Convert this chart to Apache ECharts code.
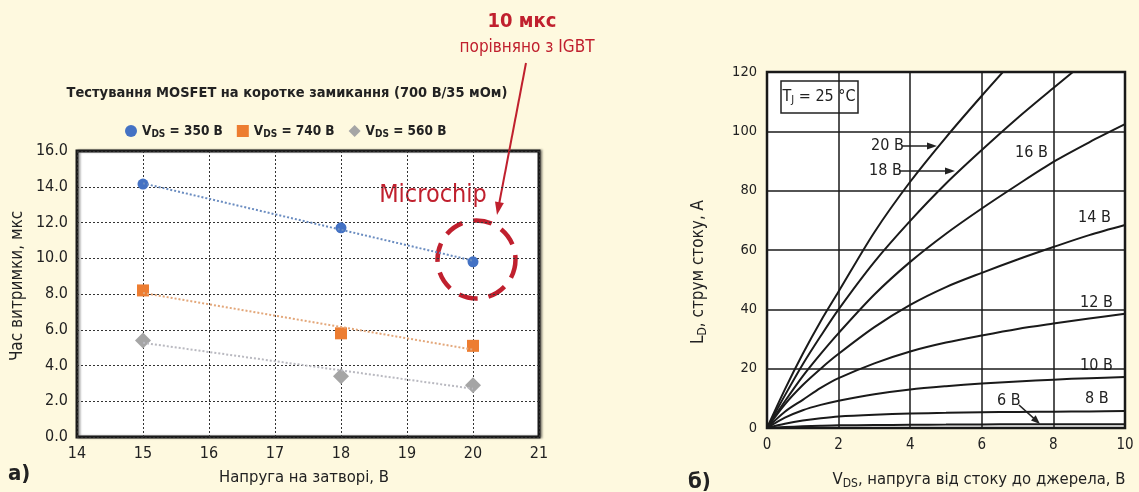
<!DOCTYPE html>
<html><head><meta charset="utf-8">
<script src="https://cdn.jsdelivr.net/npm/echarts@6/dist/echarts.min.js"></script>
<style>html,body{margin:0;padding:0;background:#FEF9DF;}#c{width:1139px;height:492px;}</style>
</head><body><div id="c"></div>
<script>
// ---------- panel a) data ----------
const gateVoltage = [15, 18, 20];
const vds350 = [14.15, 11.7, 9.8];
const vds740 = [8.2, 5.8, 5.1];
const vds560 = [5.4, 3.4, 2.9];
const seriesNames = ['350', '740', '560'];
// ---------- panel b) data ----------
const vdsX = [0, 0.5, 1, 1.5, 2, 3, 4, 5, 6, 7, 8, 9, 10];
const id20 = [0, 13, 25, 36, 46, 66, 83, 98, 112, 125.5, null, null, null];
const id18 = [0, 11, 21.5, 31, 40, 56, 69.8, 82.4, 93.7, 104.5, 114.6, 124.5, null];
const id16 = [0, 9, 17.5, 25, 32, 45, 56, 65.5, 74, 82, 89.7, 96.3, 102.4];
const id14 = [0, 8, 14.5, 20, 25, 34, 41.5, 47.5, 52.3, 56.8, 61, 65, 68.4];
const id12 = [0, 5.5, 9.5, 13.5, 16.8, 21.8, 25.8, 28.8, 31.2, 33.4, 35.2, 36.9, 38.5];
const id10 = [0, 3.5, 6, 7.8, 9.2, 11.4, 13, 14.1, 15, 15.7, 16.3, 16.8, 17.2];
const id8  = [0, 1.4, 2.5, 3.3, 3.9, 4.5, 4.9, 5.1, 5.3, 5.4, 5.5, 5.6, 5.7];
const id6  = [0, 0.3, 0.55, 0.75, 0.9, 1.0, 1.1, 1.15, 1.2, 1.25, 1.3, 1.3, 1.3];

const FONT = "'Liberation Sans Narrow','DejaVu Sans Condensed','Roboto Condensed',sans-serif";
const RED = '#c0202e';
const BLUE = '#4472c4', ORANGE = '#ed7d31', GRAY = '#a5a5a5';

function zip(xs, ys) { const r = []; xs.forEach((x, i) => { if (ys[i] !== null) r.push([x, ys[i]]); }); return r; }
function trend(xs, ys) {
  const n = xs.length, mx = xs.reduce((a, b) => a + b) / n, my = ys.reduce((a, b) => a + b) / n;
  let sxy = 0, sxx = 0;
  xs.forEach((x, i) => { sxy += (x - mx) * (ys[i] - my); sxx += (x - mx) * (x - mx); });
  const k = sxy / sxx, b = my - k * mx;
  const x0 = Math.min(...xs), x1 = Math.max(...xs);
  return [[x0, k * x0 + b], [x1, k * x1 + b]];
}

const chart = echarts.init(document.getElementById('c'));
const txt = (x, y, text, extra, rot) => {
  const o = { type: 'text', x, y, style: Object.assign({ text, font: '16px ' + FONT, fill: '#222', align: 'left', verticalAlign: 'middle' }, extra || {}) };
  if (rot) o.rotation = rot;
  return o;
};
const arrowHead = (tx, ty, fx, fy, len, w, color) => {
  const a = Math.atan2(ty - fy, tx - fx);
  const bx = tx - len * Math.cos(a), by = ty - len * Math.sin(a);
  const px = -Math.sin(a) * w, py = Math.cos(a) * w;
  return { type: 'polygon', shape: { points: [[tx, ty], [bx + px, by + py], [bx - px, by - py]] }, style: { fill: color } };
};
const arrow = (fx, fy, tx, ty, color, lw, len, w) => {
  const a = Math.atan2(ty - fy, tx - fx);
  return [
    { type: 'line', shape: { x1: fx, y1: fy, x2: tx - len * 0.8 * Math.cos(a), y2: ty - len * 0.8 * Math.sin(a) }, style: { stroke: color, lineWidth: lw } },
    arrowHead(tx, ty, fx, fy, len, w, color)
  ];
};

const curveStyle = { type: 'line', xAxisIndex: 1, yAxisIndex: 1, smooth: 0.3, symbol: 'none', lineStyle: { color: '#1a1a1a', width: 2 }, clip: true, silent: true };
const subRich = (big, small) => ({ a: { font: big + 'px ' + FONT, fill: '#222' }, s: { font: small + 'px ' + FONT, fill: '#222', padding: [7, 0, 0, 0] } });

const option = {
  backgroundColor: '#FEF9DF',
  animation: false,
  textStyle: { fontFamily: FONT },
  grid: [
    { left: 77, right: 600, top: 151, bottom: 55, show: true, backgroundColor: '#fff', borderColor: '#1a1a1a', borderWidth: 3, shadowColor: 'rgba(0,0,0,0.35)', shadowOffsetX: 2, shadowBlur: 2 },
    { left: 767, right: 14, top: 72, bottom: 64, show: true, backgroundColor: '#fff', borderColor: '#1a1a1a', borderWidth: 2.5 }
  ],
  xAxis: [
    { gridIndex: 0, type: 'value', min: 14, max: 21, interval: 1, axisLine: { show: false }, axisTick: { show: false },
      axisLabel: { color: '#222', fontSize: 16, fontFamily: FONT, margin: 9 },
      splitLine: { show: true, lineStyle: { color: '#333', width: 1, type: [2, 2] } } },
    { gridIndex: 1, type: 'value', min: 0, max: 10, interval: 2, axisLine: { show: false }, axisTick: { show: false },
      axisLabel: { color: '#222', fontSize: 15, fontFamily: FONT, margin: 10 },
      splitLine: { show: true, lineStyle: { color: '#1a1a1a', width: 1.5 } } }
  ],
  yAxis: [
    { gridIndex: 0, type: 'value', min: 0, max: 16, interval: 2, axisLine: { show: false }, axisTick: { show: false },
      axisLabel: { color: '#222', fontSize: 16, fontFamily: FONT, margin: 9, formatter: v => v.toFixed(1) },
      splitLine: { show: true, lineStyle: { color: '#333', width: 1, type: [2, 2] } } },
    { gridIndex: 1, type: 'value', min: 0, max: 120, interval: 20, axisLine: { show: false }, axisTick: { show: false },
      axisLabel: { color: '#222', fontSize: 14.5, fontFamily: FONT, margin: 10 },
      splitLine: { show: true, lineStyle: { color: '#1a1a1a', width: 1.5 } } }
  ],
  legend: {
    left: 120, top: 119, itemWidth: 12, itemHeight: 12, itemGap: 14,
    data: [{ name: seriesNames[0], icon: 'circle' }, { name: seriesNames[1], icon: 'rect' }, { name: seriesNames[2], icon: 'diamond' }],
    formatter: n => '{v|V}{s|DS}{v| = ' + n + ' В}',
    textStyle: { fontFamily: FONT, rich: {
      v: { fontSize: 13.5, fontWeight: 'bold', color: '#222', fontFamily: FONT },
      s: { fontSize: 10, fontWeight: 'bold', color: '#222', fontFamily: FONT, padding: [6, 0, 0, 0] } } }
  },
  series: [
    { name: 't350', type: 'line', data: trend(gateVoltage, vds350), symbol: 'none', lineStyle: { color: '#6a8cc0', width: 2, type: [2, 2] }, silent: true },
    { name: 't740', type: 'line', data: trend(gateVoltage, vds740), symbol: 'none', lineStyle: { color: '#e3a77a', width: 2, type: [2, 2] }, silent: true },
    { name: 't560', type: 'line', data: trend(gateVoltage, vds560), symbol: 'none', lineStyle: { color: '#b9b9c0', width: 2, type: [2, 2] }, silent: true },
    { name: seriesNames[0], type: 'scatter', data: zip(gateVoltage, vds350), symbol: 'circle', symbolSize: 11, itemStyle: { color: BLUE, opacity: 1 } },
    { name: seriesNames[1], type: 'scatter', data: zip(gateVoltage, vds740), symbol: 'rect', symbolSize: 12, itemStyle: { color: ORANGE, opacity: 1 } },
    { name: seriesNames[2], type: 'scatter', data: zip(gateVoltage, vds560), symbol: 'diamond', symbolSize: 16, itemStyle: { color: GRAY, opacity: 1 } },
    Object.assign({ name: '20', data: zip(vdsX, id20) }, curveStyle),
    Object.assign({ name: '18', data: zip(vdsX, id18) }, curveStyle),
    Object.assign({ name: '16', data: zip(vdsX, id16) }, curveStyle),
    Object.assign({ name: '14', data: zip(vdsX, id14) }, curveStyle),
    Object.assign({ name: '12', data: zip(vdsX, id12) }, curveStyle),
    Object.assign({ name: '10', data: zip(vdsX, id10) }, curveStyle),
    Object.assign({ name: '8', data: zip(vdsX, id8) }, curveStyle),
    Object.assign({ name: '6', data: zip(vdsX, id6) }, curveStyle)
  ],
  graphic: [
    // panel a texts
    txt(287, 93, 'Тестування MOSFET на коротке замикання (700 В/35 мОм)', { font: 'bold 14.5px ' + FONT, align: 'center' }),
    txt(18, 286, 'Час витримки, мкс', { font: '17px ' + FONT, align: 'center' }, Math.PI / 2),
    txt(304, 478, 'Напруга на затворі, В', { font: '16.5px ' + FONT, align: 'center' }),
    txt(8, 474, 'а)', { font: 'bold 22px ' + FONT }),
    txt(522, 22, '10 мкс', { font: 'bold 20px ' + FONT, align: 'center', fill: RED }),
    txt(527, 48, 'порівняно з IGBT', { font: '17px ' + FONT, align: 'center', fill: RED }),
    txt(433, 195, 'Microchip', { font: '25px ' + FONT, align: 'center', fill: RED, backgroundColor: '#fff', padding: [0, 2, 0, 2] }),
    { type: 'circle', shape: { cx: 476.5, cy: 259.5, r: 39 }, style: { fill: null, stroke: RED, lineWidth: 4.5, lineDash: [19, 11] } },
    ...arrow(526, 63, 497, 215, RED, 2, 13, 4.5),
    // panel b texts
    txt(699, 272, '{a|L}{s|D}{a|, струм стоку, А}', { align: 'center', rich: subRich(17, 12) }, Math.PI / 2),
    txt(979, 480, '{a|V}{s|DS}{a|, напруга від стоку до джерела, В}', { align: 'center', rich: subRich(16.5, 12) }),
    txt(688, 482, 'б)', { font: 'bold 22px ' + FONT }),
    { type: 'rect', shape: { x: 781, y: 81, width: 77, height: 32 }, style: { fill: '#fff', stroke: '#222', lineWidth: 1.5 } },
    txt(819, 97, '{a|T}{s|J}{a| = 25 °C}', { align: 'center', rich: subRich(16, 11) }),
    txt(871, 146, '20 В'), ...arrow(902, 146, 937, 146, '#222', 1.5, 10, 3.5),
    txt(869, 171, '18 В'), ...arrow(899, 171, 955, 171, '#222', 1.5, 10, 3.5),
    txt(1015, 153, '16 В'),
    txt(1078, 218, '14 В'),
    txt(1080, 303, '12 В'),
    txt(1080, 366, '10 В'),
    txt(1085, 399, '8 В'),
    txt(997, 401, '6 В'), ...arrow(1019, 405, 1040, 424, '#222', 1.5, 9, 3.5)
  ]
};
option.series.slice(0, 6).forEach(s => { s.xAxisIndex = 0; s.yAxisIndex = 0; });
chart.setOption(option);
</script></body></html>
